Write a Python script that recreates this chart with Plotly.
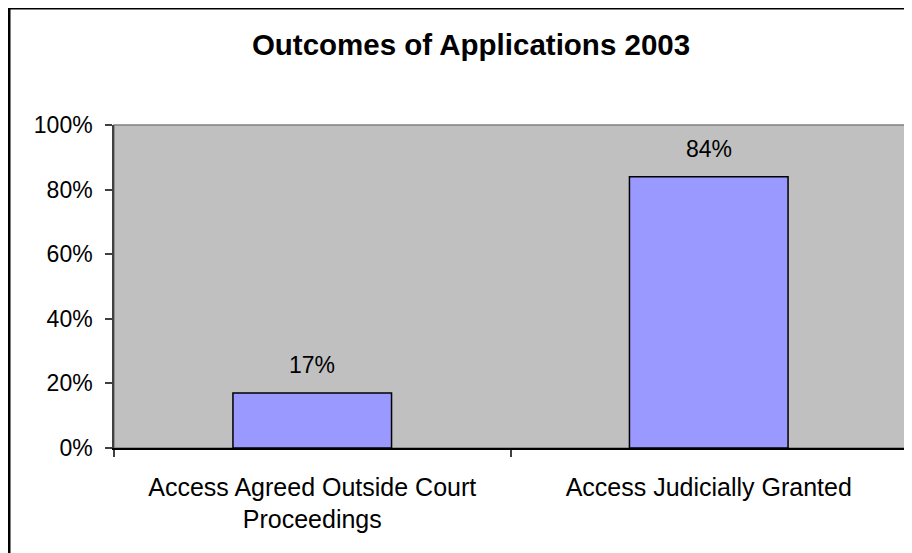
import plotly.graph_objects as go

categories = ["Access Agreed Outside Court<br>Proceedings", "Access Judicially Granted"]
values = [0.17, 0.84]
value_labels = ["17%", "84%"]
y_ticks = [0, 0.2, 0.4, 0.6, 0.8, 1.0]
y_tick_labels = ["0%", "20%", "40%", "60%", "80%", "100%"]

FONT = "Liberation Sans, Arial, sans-serif"

W, H = 904, 545
ML, MR, MT, MB = 106, 5, 117, 105
PW, PH = W - ML - MR, H - MT - MB

fig = go.Figure()
fig.add_trace(go.Bar(
    x=categories, y=values, width=0.40,
    marker=dict(color="#9999FF", line=dict(color="#000000", width=1.5)),
    hoverinfo="skip",
))

for c, v, t in zip(categories, values, value_labels):
    fig.add_annotation(x=c, y=v, text=t, showarrow=False, yanchor="bottom",
                       yshift=13, font=dict(family=FONT, size=23, color="#000000"))

# plot area frame (top/right grey)
fig.add_shape(type="rect", xref="paper", yref="paper", x0=0, y0=0, x1=1, y1=1,
              line=dict(color="#808080", width=1.5), layer="below")
# outer chart border
fig.add_shape(type="rect", xref="paper", yref="paper",
              x0=-(ML - 1) / PW, y0=-0.6, x1=1.2, y1=1 + MT / PH,
              line=dict(color="#000000", width=3), layer="above")

fig.update_layout(
    width=W, height=H,
    margin=dict(l=ML, r=MR, t=MT, b=MB),
    paper_bgcolor="#FFFFFF", plot_bgcolor="#C0C0C0",
    showlegend=False,
    title=dict(text="<b>Outcomes of Applications 2003</b>", x=463 / W, xref="container",
               xanchor="center", y=1 - 37 / H, yref="container", yanchor="middle",
               font=dict(family=FONT, size=29.5, color="#000000")),
    font=dict(family=FONT, size=23, color="#000000"),
)
fig.update_xaxes(
    type="category", tickson="boundaries", ticks="outside", ticklen=7,
    tickcolor="#404040", tickwidth=1.5, ticklabelstandoff=16,
    showline=True, linecolor="#000000", linewidth=1.5, showgrid=False,
    tickfont=dict(family=FONT, size=25, color="#000000"),
)
fig.update_yaxes(
    range=[0, 1], tickvals=y_ticks, ticktext=y_tick_labels,
    ticks="outside", ticklen=7, tickcolor="#404040", tickwidth=1.5, ticklabelstandoff=8,
    showline=True, linecolor="#404040", linewidth=1.5, showgrid=False, zeroline=False,
    tickfont=dict(family=FONT, size=23, color="#000000"),
)

fig.write_html("out.html")
